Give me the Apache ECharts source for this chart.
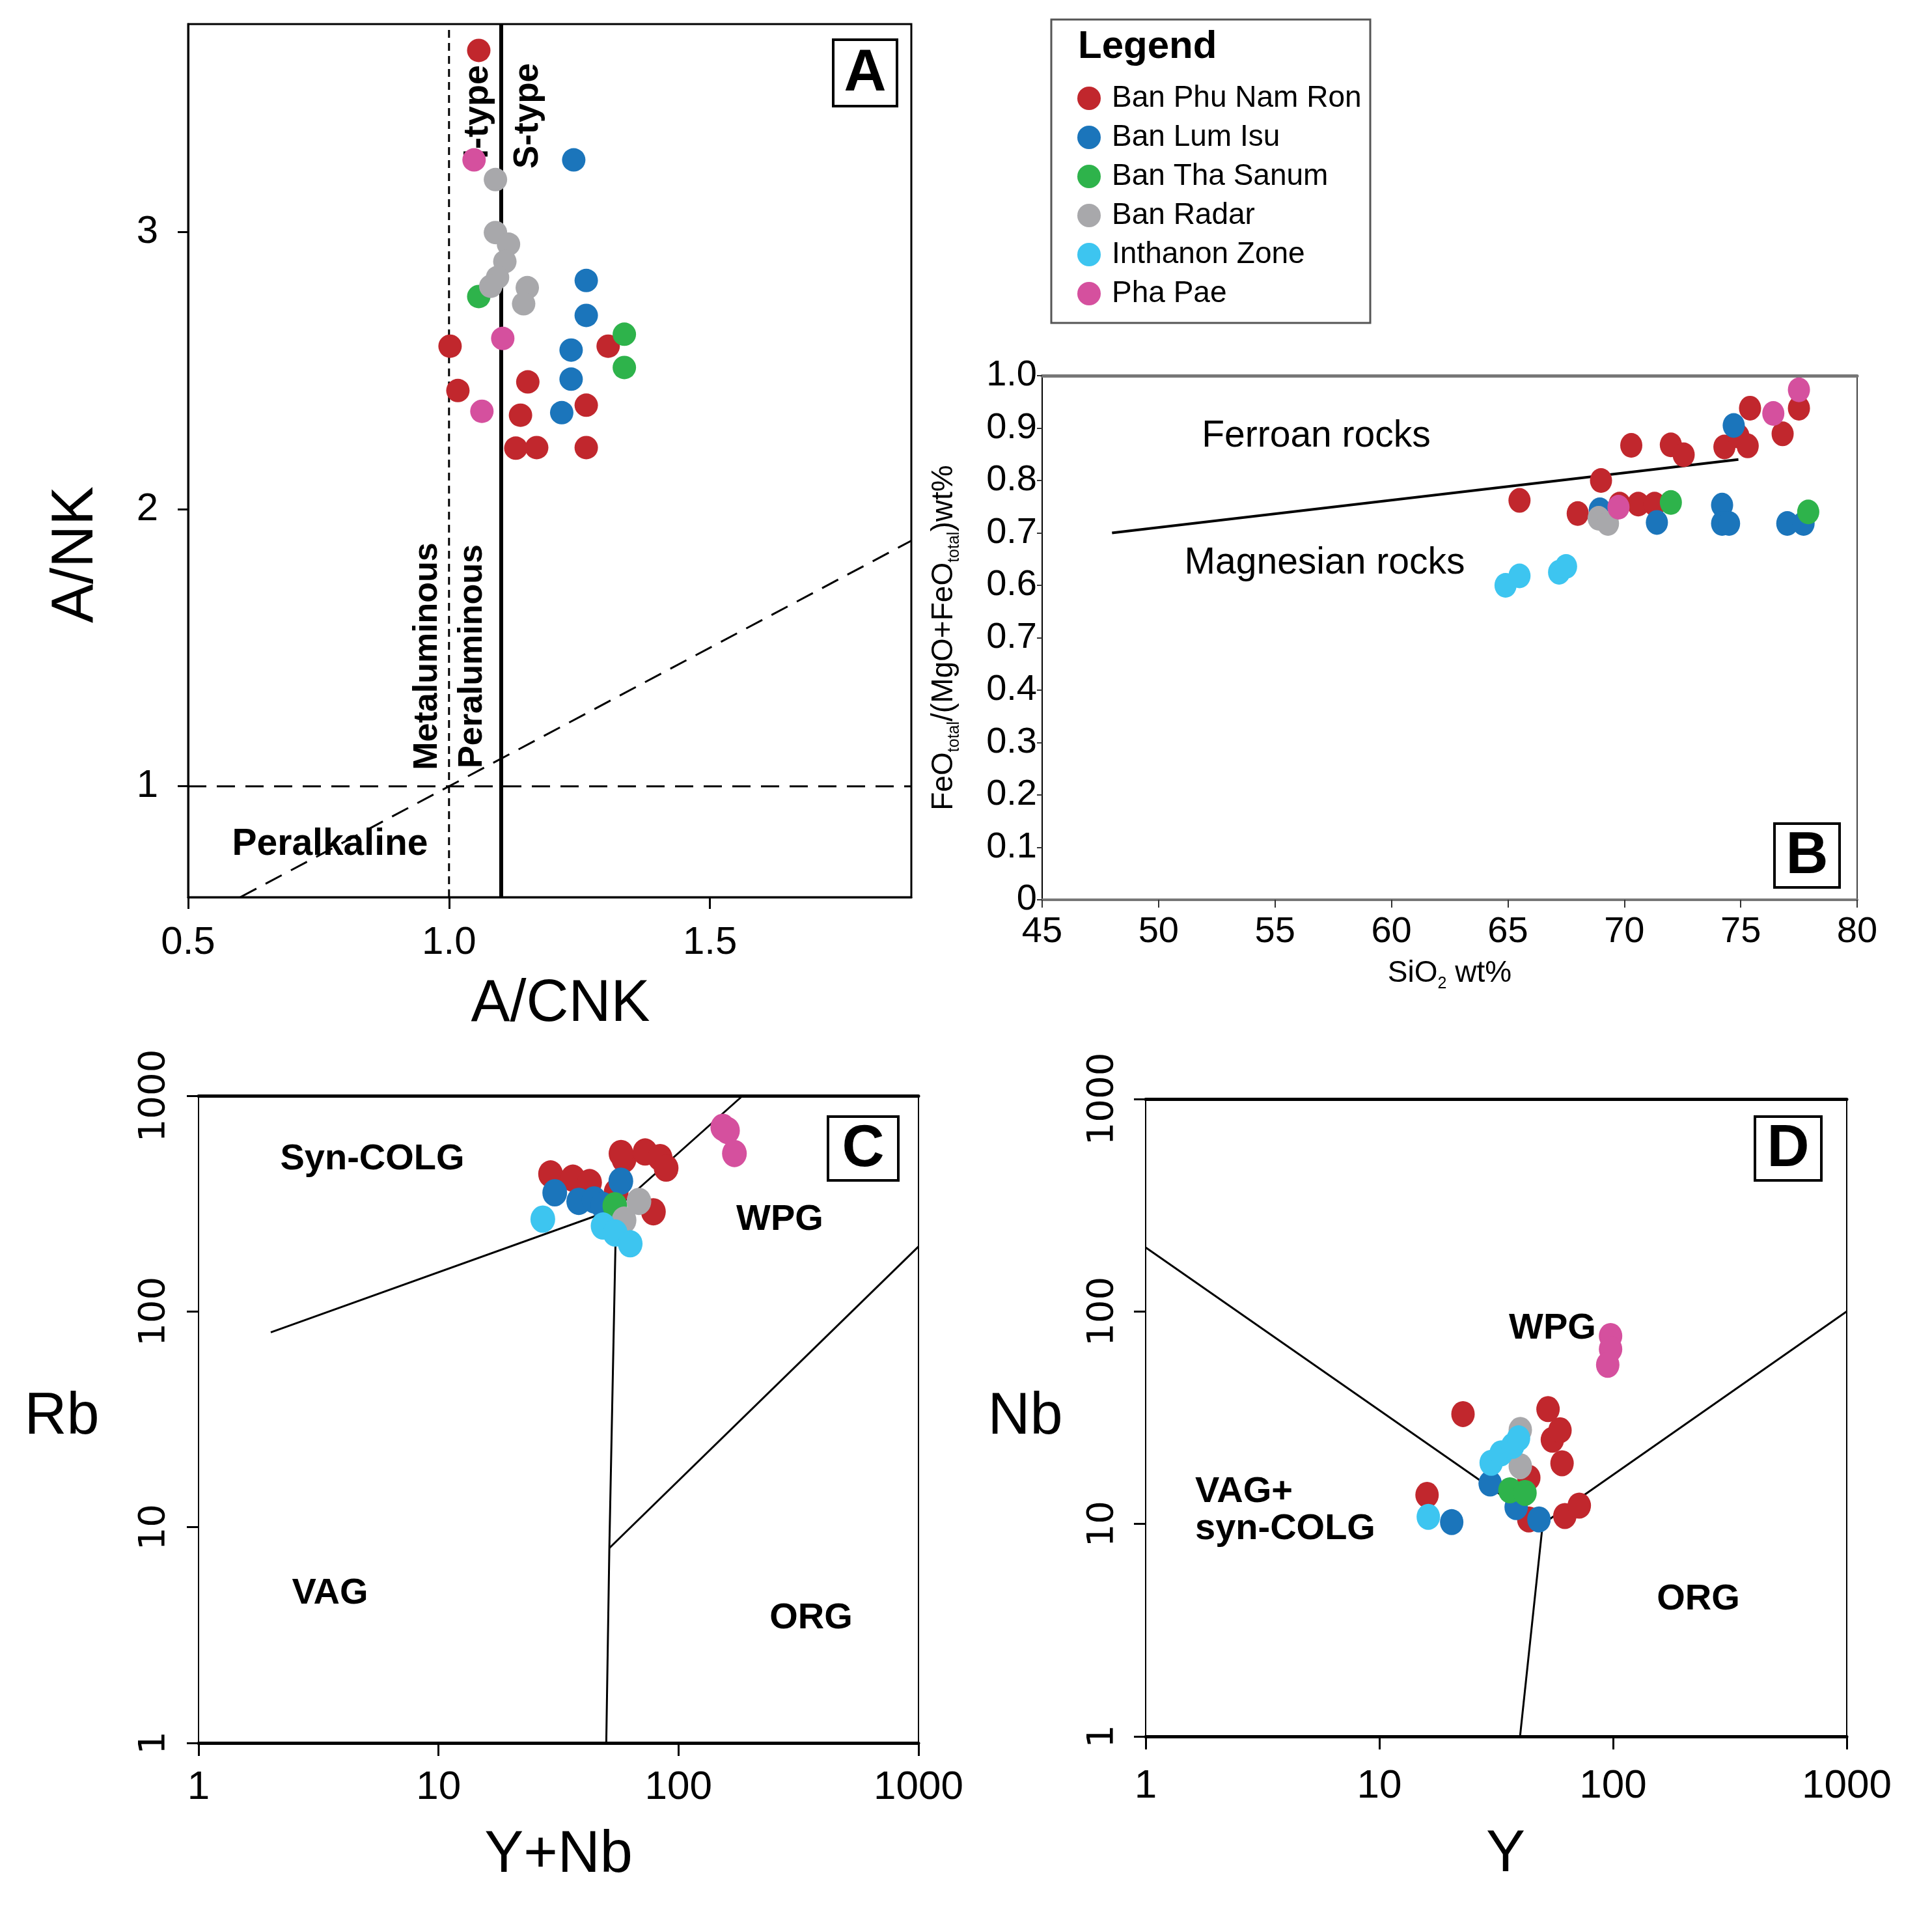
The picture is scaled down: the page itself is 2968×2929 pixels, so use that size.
<!DOCTYPE html>
<html>
<head>
<meta charset="utf-8">
<script src="https://cdn.jsdelivr.net/npm/echarts@6/dist/echarts.min.js"></script>
<style>
  html, body { margin: 0; padding: 0; background: #fff; }
  #main { width: 2968px; height: 2929px; }
</style>
</head>
<body>
<div id="main"></div>
<script>
var FONT = '"Liberation Sans", Arial, sans-serif';

var groupNames = ['Ban Phu Nam Ron', 'Ban Lum Isu', 'Ban Tha Sanum', 'Ban Radar', 'Inthanon Zone', 'Pha Pae'];
var groupColors = ['#C1272D', '#1B75BB', '#2EB34B', '#A8A8AB', '#3DC5F0', '#D5509E'];

// Panel A: A/CNK vs A/NK
var aRed = [[1.057, 3.655], [1.002, 2.588], [1.017, 2.428], [1.151, 2.459], [1.137, 2.339], [1.263, 2.375], [1.305, 2.588], [1.128, 2.22], [1.168, 2.222], [1.263, 2.222]];
var aBlue = [[1.239, 3.26], [1.263, 2.825], [1.263, 2.699], [1.234, 2.574], [1.234, 2.469], [1.216, 2.348]];
var aGreen = [[1.057, 2.767], [1.336, 2.631], [1.336, 2.511]];
var aGray = [[1.089, 3.189], [1.089, 2.998], [1.114, 2.956], [1.107, 2.893], [1.093, 2.836], [1.08, 2.804], [1.15, 2.799], [1.143, 2.741]];
var aCyan = [];
var aPink = [[1.048, 3.26], [1.103, 2.616], [1.063, 2.353]];

// Panel B: SiO2 vs FeOt/(MgO+FeOt)
var bRed = [[65.5, 0.762], [68.0, 0.737], [69.0, 0.80], [69.8, 0.755], [70.6, 0.755], [71.3, 0.755], [70.3, 0.867], [72.0, 0.868], [72.55, 0.849], [74.3, 0.864], [74.9, 0.885], [75.4, 0.938], [75.3, 0.866], [76.8, 0.889], [77.5, 0.938]];
var bBlue = [[68.95, 0.744], [71.4, 0.72], [74.2, 0.753], [74.2, 0.718], [74.5, 0.718], [74.7, 0.905], [77.0, 0.718], [77.7, 0.718]];
var bGreen = [[72.0, 0.758], [77.9, 0.74]];
var bGray = [[68.9, 0.728], [69.3, 0.718]];
var bCyan = [[64.9, 0.60], [65.5, 0.618], [67.2, 0.625], [67.5, 0.636]];
var bPink = [[69.75, 0.749], [76.4, 0.928], [77.5, 0.973]];

// Panel C: Y+Nb vs Rb
var cRed = [[29.3, 434], [36.3, 415], [42.6, 396], [55, 358], [59.3, 507], [57.6, 540], [72.6, 549], [83.8, 517], [88.8, 462], [78.6, 290]];
var cBlue = [[30.5, 355], [38.4, 324], [44.5, 329], [48.4, 310], [57.5, 402]];
var cGreen = [[54.3, 309]];
var cGray = [[68.4, 324], [59.3, 265]];
var cCyan = [[27.2, 268], [48.5, 249], [54.5, 231], [62.9, 206]];
var cPink = [[153, 714], [160, 690], [171, 540]];

// Panel D: Y vs Nb
var dRed = [[16.0, 13.7], [22.8, 32.9], [52.7, 34.7], [55.0, 24.9], [59.3, 27.6], [60.5, 19.3], [43.6, 16.5], [43.6, 10.5], [62.2, 10.9], [71.7, 12.2]];
var dBlue = [[20.4, 10.2], [29.8, 15.5], [38.5, 12.0], [48.2, 10.5]];
var dGreen = [[36.2, 14.4], [42.0, 14.0]];
var dGray = [[40.1, 27.7], [40.1, 18.7]];
var dCyan = [[16.2, 10.8], [30.1, 19.4], [33.2, 21.5], [37.2, 23.3], [39.4, 25.3]];
var dPink = [[97.6, 76.7], [97.6, 66.5], [94.9, 56.1]];

// field boundaries
var aMetaLine = [[1.0, 0.6], [1.0, 3.75]];
var aSTypeLine = [[1.1, 0.6], [1.1, 3.75]];
var aNkLine = [[0.5, 1], [1.886, 1]];
var aAlkLine = [[0.6, 0.6], [1.886, 1.886]];
var bFerroanLine = [[48, 0.70], [74.9, 0.84]];
var cSynColgLine = [[2, 80], [55, 300], [185, 1000]];
var cVagLine = [[55, 300], [51.5, 8], [50, 1]];
var cOrgLine = [[51.5, 8], [1000, 200]];
var dWpgLine = [[1, 200], [50, 10], [1000, 100]];
var dOrgLine = [[50, 10], [40, 1]];

// tick labels
var aXTicks = [0.5, 1.0, 1.5];
var aYTicks = [1, 2, 3];
var bYTickLabels = ['0', '0.1', '0.2', '0.3', '0.4', '0.7', '0.6', '0.7', '0.8', '0.9', '1.0'];

var chart = echarts.init(document.getElementById('main'), null, { renderer: 'canvas' });

function pts(idx, grid, data, size) {
    return {
        type: 'scatter',
        name: groupNames[idx],
        xAxisIndex: grid,
        yAxisIndex: grid,
        data: data,
        symbol: 'circle',
        symbolSize: size,
        itemStyle: { color: groupColors[idx], opacity: 1 },
        z: 3
    };
}

function boundary(grid, data, width, dash) {
    return {
        type: 'line',
        xAxisIndex: grid,
        yAxisIndex: grid,
        data: data,
        symbol: 'none',
        silent: true,
        lineStyle: { color: '#000', width: width, type: dash || 'solid' },
        z: 2
    };
}

function txt(x, y, text, size, bold, rot, align) {
    return {
        type: 'text',
        x: x,
        y: y,
        rotation: rot || 0,
        z: 1,
        style: {
            text: text,
            fill: '#000',
            font: (bold ? 'bold ' : '') + size + 'px ' + FONT,
            textAlign: align || 'center',
            align: align || 'center',
            textVerticalAlign: 'middle',
            verticalAlign: 'middle'
        }
    };
}

function letterBox(x, y, w, h, letter) {
    return [
        { type: 'rect', z: 5, shape: { x: x, y: y, width: w, height: h }, style: { fill: '#fff', stroke: '#000', lineWidth: 4 } },
        { type: 'text', z: 6, x: x + w / 2, y: y + h / 2 + 2, style: { text: letter, fill: '#000', font: 'bold 90px ' + FONT, textAlign: 'center', align: 'center', textVerticalAlign: 'middle', verticalAlign: 'middle' } }
    ];
}

var labelStyle = { color: '#000', fontFamily: FONT };

function plain(v) { return String(Math.round(v)); }

function logAxis(grid, pos, opts) {
    return Object.assign({
        type: 'log', logBase: 10, min: 1, max: 1000, gridIndex: grid, position: pos,
        splitLine: { show: false }
    }, opts);
}

var sub = { fontSize: 25, lineHeight: 25, verticalAlign: 'bottom', fontFamily: FONT, color: '#000' };
var mainTxt = { fontSize: 46, lineHeight: 58, fontFamily: FONT, color: '#000' };

var option = {
    animation: false,
    backgroundColor: '#fff',
    textStyle: { fontFamily: FONT },
    grid: [
        { left: 289, top: 37, width: 1111, height: 1341, show: true, borderColor: '#000', borderWidth: 3, containLabel: false, outerBoundsMode: 'none' },
        { left: 1601, top: 577, width: 1252, height: 805, show: true, borderColor: '#444', borderWidth: 2, containLabel: false, outerBoundsMode: 'none' },
        { left: 305, top: 1683, width: 1106, height: 994, show: true, borderColor: '#000', borderWidth: 2, containLabel: false, outerBoundsMode: 'none' },
        { left: 1760, top: 1688, width: 1077, height: 979, show: true, borderColor: '#000', borderWidth: 2, containLabel: false, outerBoundsMode: 'none' }
    ],
    xAxis: [
        {
            type: 'value', gridIndex: 0, min: 0.5, max: 1.886,
            splitLine: { show: false },
            axisLine: { lineStyle: { color: '#000', width: 3 } },
            axisTick: { length: 18, lineStyle: { color: '#000', width: 3 }, customValues: aXTicks },
            axisLabel: Object.assign({ fontSize: 60, margin: 40, customValues: aXTicks, formatter: function (v) { return v.toFixed(1); } }, labelStyle)
        },
        {
            type: 'value', gridIndex: 1, min: 45, max: 80, interval: 5,
            splitLine: { show: false },
            axisLine: { lineStyle: { color: '#777', width: 4 } },
            axisTick: { length: 12, lineStyle: { color: '#333', width: 2 } },
            axisLabel: Object.assign({ fontSize: 56, margin: 22 }, labelStyle),
            name: '{m|SiO}{s|2}{m| wt%}', nameLocation: 'middle', nameGap: 84, nameMoveOverlap: false,
            nameTextStyle: { rich: { m: mainTxt, s: sub } }
        },
        logAxis(2, 'bottom', {
            axisLine: { lineStyle: { color: '#000', width: 5 } },
            axisTick: { length: 20, lineStyle: { color: '#000', width: 3 } },
            axisLabel: Object.assign({ fontSize: 62, margin: 38, formatter: plain }, labelStyle),
            name: 'Y+Nb', nameLocation: 'middle', nameGap: 128, nameMoveOverlap: false,
            nameTextStyle: { fontSize: 90, color: '#000', fontFamily: FONT }
        }),
        logAxis(3, 'bottom', {
            axisLine: { lineStyle: { color: '#000', width: 5 } },
            axisTick: { length: 20, lineStyle: { color: '#000', width: 3 } },
            axisLabel: Object.assign({ fontSize: 62, margin: 46, formatter: plain }, labelStyle)
        }),
        // heavy top borders
        { type: 'value', gridIndex: 1, min: 45, max: 80, position: 'top', splitLine: { show: false }, axisTick: { show: false }, axisLabel: { show: false }, axisLine: { lineStyle: { color: '#777', width: 5 } } },
        logAxis(2, 'top', { axisTick: { show: false }, axisLabel: { show: false }, axisLine: { lineStyle: { color: '#000', width: 5 } } }),
        logAxis(3, 'top', { axisTick: { show: false }, axisLabel: { show: false }, axisLine: { lineStyle: { color: '#000', width: 5 } } })
    ],
    yAxis: [
        {
            type: 'value', gridIndex: 0, min: 0.6, max: 3.75,
            splitLine: { show: false },
            axisLine: { lineStyle: { color: '#000', width: 3 } },
            axisTick: { length: 16, lineStyle: { color: '#000', width: 3 }, customValues: aYTicks },
            axisLabel: Object.assign({ fontSize: 60, margin: 46, customValues: aYTicks }, labelStyle)
        },
        {
            type: 'value', gridIndex: 1, min: 0, max: 1, interval: 0.1,
            splitLine: { show: false },
            axisLine: { lineStyle: { color: '#000', width: 2 } },
            axisTick: { length: 8, lineStyle: { color: '#333', width: 2 } },
            axisLabel: Object.assign({
                fontSize: 56, margin: 8,
                formatter: function (v) { return bYTickLabels[Math.round(v * 10)]; }
            }, labelStyle),
            name: '{m|FeO}{s|total}{m|/(MgO+FeO}{s|total}{m|)wt%}', nameLocation: 'middle', nameGap: 122, nameMoveOverlap: false,
            nameTextStyle: { rich: { m: mainTxt, s: sub } }
        },
        logAxis(2, 'left', {
            axisLine: { lineStyle: { color: '#000', width: 2 } },
            axisTick: { length: 18, lineStyle: { color: '#000', width: 3 } },
            axisLabel: { rotate: 90, fontSize: 56, margin: 40, color: '#000', fontFamily: '"DejaVu Sans", sans-serif', formatter: plain }
        }),
        logAxis(3, 'left', {
            axisLine: { lineStyle: { color: '#000', width: 2 } },
            axisTick: { length: 18, lineStyle: { color: '#000', width: 3 } },
            axisLabel: { rotate: 90, fontSize: 56, margin: 38, color: '#000', fontFamily: '"DejaVu Sans", sans-serif', formatter: plain }
        })
    ],
    legend: {
        orient: 'vertical', left: 1655, top: 128, padding: 0,
        itemWidth: 60, itemHeight: 36, itemGap: 14,
        icon: 'circle', selectedMode: false,
        data: groupNames,
        textStyle: { fontSize: 46, color: '#000', fontFamily: FONT }
    },
    graphic: [].concat(
        [
            { type: 'rect', z: 0, shape: { x: 1615, y: 30, width: 490, height: 466 }, style: { fill: '#fff', stroke: '#555', lineWidth: 3 } },
            txt(1656, 72, 'Legend', 60, true, 0, 'left'),
            // axis titles
            txt(117, 852, 'A/NK', 90, false, Math.PI / 2),
            txt(861, 1543, 'A/CNK', 90, false),
            txt(95, 2177, 'Rb', 90, false),
            txt(1575, 2177, 'Nb', 90, false),
            txt(2313, 2849, 'Y', 90, false),
            // panel A fields
            txt(507, 1297, 'Peralkaline', 57, true),
            txt(657, 1008, 'Metaluminous', 52, true, Math.PI / 2),
            txt(726, 1008, 'Peraluminous', 52, true, Math.PI / 2),
            txt(734, 172, 'I-type', 54, true, Math.PI / 2),
            txt(811, 178, 'S-type', 53, true, Math.PI / 2),
            // panel B fields
            txt(2022, 670, 'Ferroan rocks', 57, false),
            txt(2035, 865, 'Magnesian rocks', 57, false),
            // panel C fields
            txt(572, 1781, 'Syn-COLG', 56, true),
            txt(1198, 1874, 'WPG', 56, true),
            txt(507, 2448, 'VAG', 56, true),
            txt(1246, 2486, 'ORG', 56, true),
            // panel D fields
            txt(2385, 2041, 'WPG', 56, true),
            txt(1836, 2292, 'VAG+', 56, true, 0, 'left'),
            txt(1836, 2349, 'syn-COLG', 56, true, 0, 'left'),
            txt(2609, 2457, 'ORG', 56, true)
        ],
        letterBox(1280, 61, 98, 102, 'A'),
        letterBox(2726, 1265, 100, 98, 'B'),
        letterBox(1272, 1715, 108, 98, 'C'),
        letterBox(2696, 1715, 102, 98, 'D')
    ),
    series: [
        boundary(0, aMetaLine, 3, [12, 8]),
        boundary(0, aSTypeLine, 6),
        boundary(0, aNkLine, 3, [28, 16]),
        boundary(0, aAlkLine, 3, [28, 16]),
        boundary(1, bFerroanLine, 4),
        boundary(2, cSynColgLine, 3),
        boundary(2, cVagLine, 3),
        boundary(2, cOrgLine, 3),
        boundary(3, dWpgLine, 3),
        boundary(3, dOrgLine, 3),

        pts(0, 0, aRed, 36), pts(1, 0, aBlue, 36), pts(2, 0, aGreen, 36),
        pts(3, 0, aGray, 36), pts(4, 0, aCyan, 36), pts(5, 0, aPink, 36),

        pts(0, 1, bRed, [34, 38]), pts(1, 1, bBlue, [34, 38]), pts(2, 1, bGreen, [34, 38]),
        pts(3, 1, bGray, [34, 38]), pts(4, 1, bCyan, [34, 38]), pts(5, 1, bPink, [34, 38]),

        pts(0, 2, cRed, [38, 42]), pts(1, 2, cBlue, [38, 42]), pts(2, 2, cGreen, [38, 42]),
        pts(3, 2, cGray, [38, 42]), pts(4, 2, cCyan, [38, 42]), pts(5, 2, cPink, [38, 42]),

        pts(0, 3, dRed, [36, 40]), pts(1, 3, dBlue, [36, 40]), pts(2, 3, dGreen, [36, 40]),
        pts(3, 3, dGray, [36, 40]), pts(4, 3, dCyan, [36, 40]), pts(5, 3, dPink, [36, 40])
    ]
};

chart.setOption(option);
</script>
</body>
</html>
